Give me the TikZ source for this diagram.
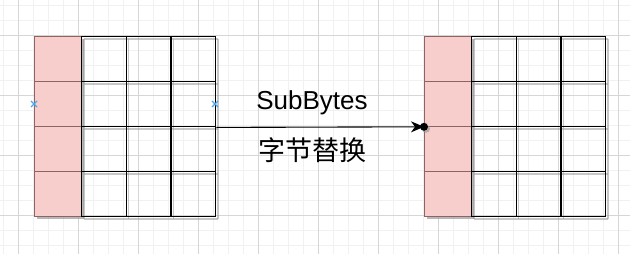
\documentclass[tikz,border=0pt]{standalone}
\usepackage{fontspec}
\setmainfont{Liberation Sans}
\newfontfamily\cjk{Noto Sans CJK SC}
\usetikzlibrary{arrows.meta}
\definecolor{pinkfill}{HTML}{F8CECC}
\definecolor{pinkline}{HTML}{8C6464}
\definecolor{minorgrid}{HTML}{F1F1F1}
\definecolor{majorgrid}{HTML}{D6D6D6}
\definecolor{marker}{HTML}{4DA6E8}
\definecolor{shadowc}{HTML}{9A9A9A}
\tikzset{
  pinkcell/.style={draw=pinkline, line width=0.8pt, fill=pinkfill, inner sep=0pt,
    minimum width=47pt, minimum height=45pt, anchor=north west},
  wcell/.style={draw=black, line width=1.4pt, inner sep=0pt,
    minimum width=44.67pt, minimum height=45pt, anchor=north west},
  shadowline/.style={draw=shadowc, opacity=0.55, line width=1.4pt},
  shadowfill/.style={fill=shadowc, opacity=0.7},
  arrowline/.style={draw=black, line width=1.1pt, -{Stealth[length=13pt,width=11pt,inset=4pt]}},
  lbl/.style={inner sep=0pt, text=black},
  xmark/.style={draw=marker, line width=1.2pt}
}
\begin{document}
\begin{tikzpicture}[x=1pt,y=-1pt]
\useasboundingbox (0,0) rectangle (630,254);
\fill[white] (0,0) rectangle (630,254);
% background grid
\foreach \x in {3,18,...,630} \draw[minorgrid,line width=0.8pt] (\x,0) -- (\x,254);
\foreach \y in {5,20,...,254} \draw[minorgrid,line width=0.8pt] (0,\y) -- (630,\y);
\foreach \x in {18,78,...,630} \draw[majorgrid,line width=0.8pt] (\x,0) -- (\x,254);
\foreach \y in {35,95,155,215} \draw[majorgrid,line width=0.8pt] (0,\y) -- (630,\y);
% shadows
\foreach \x in {34,424} {
  \fill[shadowfill] (\x+3,39) rectangle (\x+50,219);
  \foreach \c in {0,1,2,3} \draw[shadowline] (\x+47+44.67*\c+3,39) -- (\x+47+44.67*\c+3,219);
  \foreach \r in {0,1,2,3,4} \draw[shadowline] (\x+47+3,36+45*\r+3) -- (\x+47+134+3,36+45*\r+3);
}
% left matrix
\foreach \r in {1,2,3,4} {
  \node[pinkcell] (Lp\r) at (34,36+45*\r-45) {};
  \foreach \c in {1,2,3}
    \node[wcell] (Lc\r\c) at (81+44.67*\c-44.67,36+45*\r-45) {};
}
% right matrix
\foreach \r in {1,2,3,4} {
  \node[pinkcell] (Rp\r) at (424,36+45*\r-45) {};
  \foreach \c in {1,2,3}
    \node[wcell] (Rc\r\c) at (471+44.67*\c-44.67,36+45*\r-45) {};
}
% connection markers
\coordinate (mk1) at (34,104);
\coordinate (mk2) at (215,104);
\foreach \m in {mk1,mk2} {
  \draw[xmark] ([shift={(-3,-3)}]\m) -- ([shift={(3,3)}]\m);
  \draw[xmark] ([shift={(-3,3)}]\m) -- ([shift={(3,-3)}]\m);
}
% connector
\fill[shadowfill] ([shift={(2,2)}]Rp2.south west) circle (4);
\draw[arrowline] (Lc23.south east) -- (Rp2.south west);
\fill[black] (Rp2.south west) circle (4);
% labels
\node[lbl, font=\fontsize{26}{30}\selectfont] (t1) at (312,103) {SubBytes};
\node[lbl, font=\cjk\fontsize{27}{32}\selectfont] (t2) at (312,150) {字节替换};
\end{tikzpicture}
\end{document}
